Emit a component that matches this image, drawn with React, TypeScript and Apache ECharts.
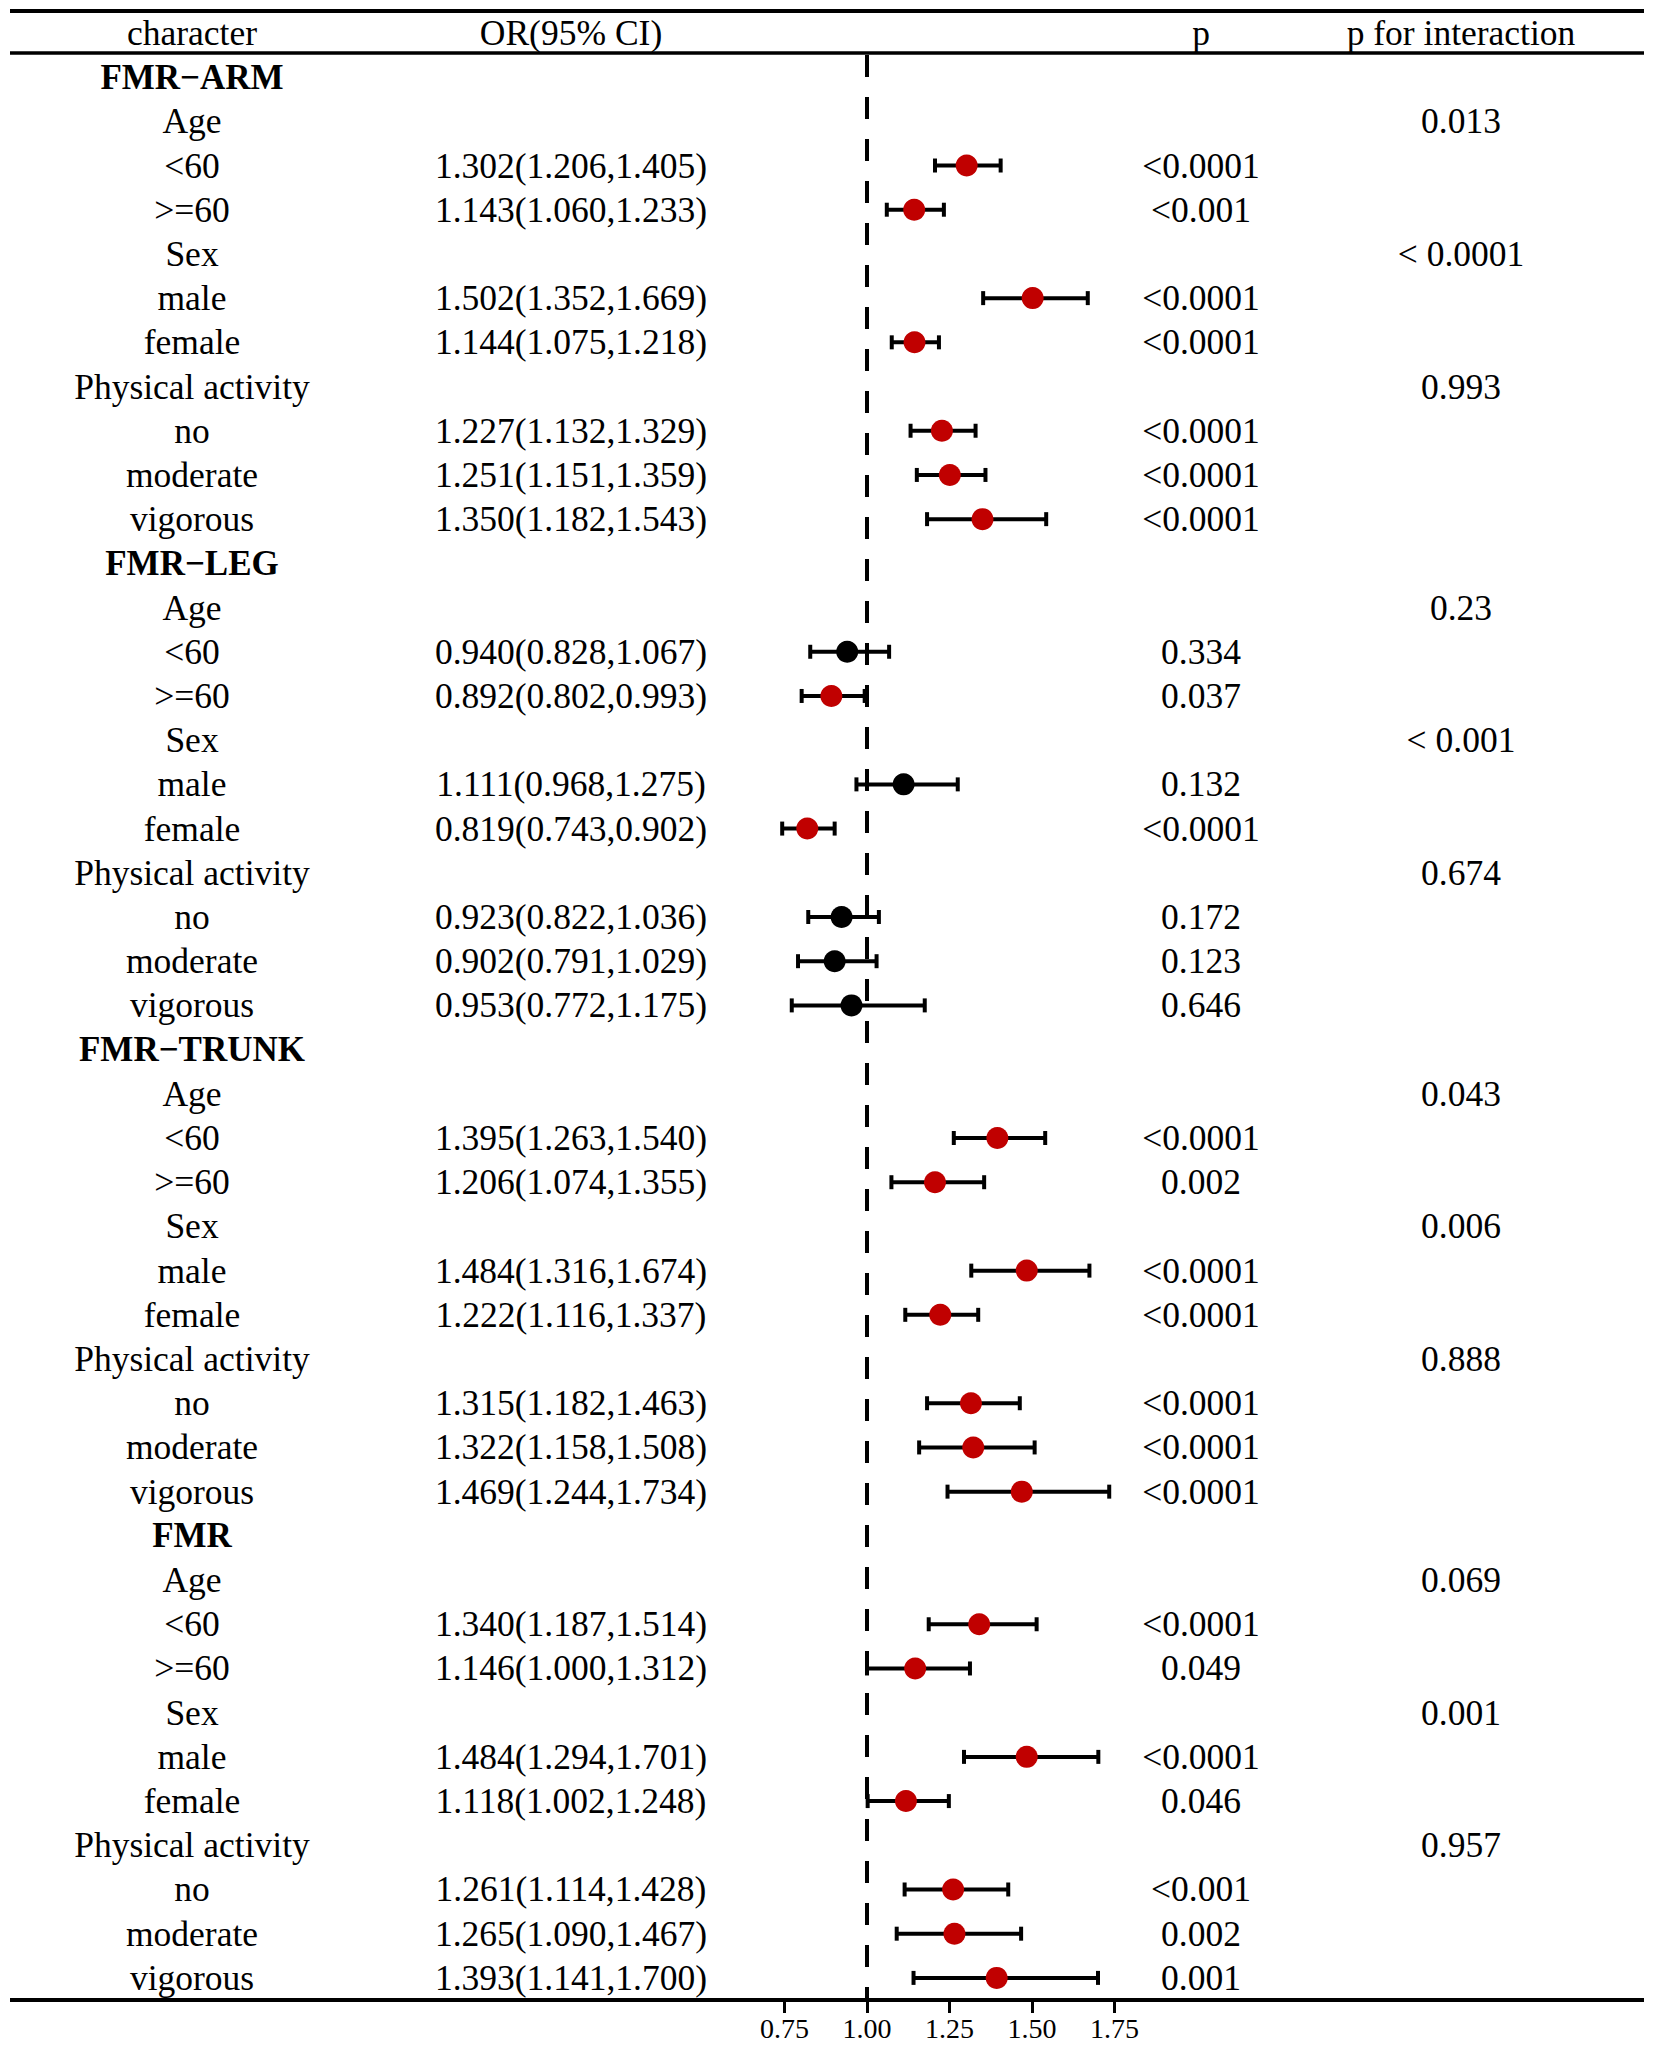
import React, { useEffect, useRef } from "react";
import * as echarts from "echarts";

const FONT = '"Liberation Serif", "Times New Roman", Times, serif';

// ---- data ----
const groupNames = ["FMR\u2212ARM", "FMR\u2212LEG", "FMR\u2212TRUNK", "FMR"];
const factorNames = ["Age", "Sex", "Physical activity"];
const levelNames = [["<60", ">=60"], ["male", "female"], ["no", "moderate", "vigorous"]];

const armOR = [1.302, 1.143, 1.502, 1.144, 1.227, 1.251, 1.35];
const armLow = [1.206, 1.06, 1.352, 1.075, 1.132, 1.151, 1.182];
const armHigh = [1.405, 1.233, 1.669, 1.218, 1.329, 1.359, 1.543];
const armP = ["<0.0001", "<0.001", "<0.0001", "<0.0001", "<0.0001", "<0.0001", "<0.0001"];
const armPint = ["0.013", "< 0.0001", "0.993"];

const legOR = [0.94, 0.892, 1.111, 0.819, 0.923, 0.902, 0.953];
const legLow = [0.828, 0.802, 0.968, 0.743, 0.822, 0.791, 0.772];
const legHigh = [1.067, 0.993, 1.275, 0.902, 1.036, 1.029, 1.175];
const legP = ["0.334", "0.037", "0.132", "<0.0001", "0.172", "0.123", "0.646"];
const legPint = ["0.23", "< 0.001", "0.674"];

const trunkOR = [1.395, 1.206, 1.484, 1.222, 1.315, 1.322, 1.469];
const trunkLow = [1.263, 1.074, 1.316, 1.116, 1.182, 1.158, 1.244];
const trunkHigh = [1.54, 1.355, 1.674, 1.337, 1.463, 1.508, 1.734];
const trunkP = ["<0.0001", "0.002", "<0.0001", "<0.0001", "<0.0001", "<0.0001", "<0.0001"];
const trunkPint = ["0.043", "0.006", "0.888"];

const fmrOR = [1.34, 1.146, 1.484, 1.118, 1.261, 1.265, 1.393];
const fmrLow = [1.187, 1.0, 1.294, 1.002, 1.114, 1.09, 1.141];
const fmrHigh = [1.514, 1.312, 1.701, 1.248, 1.428, 1.467, 1.7];
const fmrP = ["<0.0001", "0.049", "<0.0001", "0.046", "<0.001", "0.002", "0.001"];
const fmrPint = ["0.069", "0.001", "0.957"];

const xTicks = [0.75, 1.0, 1.25, 1.5, 1.75];
const headerTexts = ["character", "OR(95% CI)", "p", "p for interaction"];

const groupData = [
  { or: armOR, low: armLow, high: armHigh, p: armP, pint: armPint },
  { or: legOR, low: legLow, high: legHigh, p: legP, pint: legPint },
  { or: trunkOR, low: trunkLow, high: trunkHigh, p: trunkP, pint: trunkPint },
  { or: fmrOR, low: fmrLow, high: fmrHigh, p: fmrP, pint: fmrPint },
];

type Row = {
  char: string;
  bold: boolean;
  orText: string;
  pText: string;
  pintText: string;
  or: number | null;
  low: number | null;
  high: number | null;
  pNum: number | null;
};

function buildRows(): Row[] {
  const rows: Row[] = [];
  groupNames.forEach((g, gi) => {
    const d = groupData[gi];
    rows.push({ char: g, bold: true, orText: "", pText: "", pintText: "", or: null, low: null, high: null, pNum: null });
    let k = 0;
    factorNames.forEach((f, fi) => {
      rows.push({ char: f, bold: false, orText: "", pText: "", pintText: d.pint[fi], or: null, low: null, high: null, pNum: null });
      levelNames[fi].forEach((lv) => {
        rows.push({
          char: lv,
          bold: false,
          orText: `${d.or[k].toFixed(3)}(${d.low[k].toFixed(3)},${d.high[k].toFixed(3)})`,
          pText: d.p[k],
          pintText: "",
          or: d.or[k],
          low: d.low[k],
          high: d.high[k],
          pNum: parseFloat(d.p[k].replace("<", "").trim()),
        });
        k++;
      });
    });
  });
  return rows;
}

export default function App() {
  const ref = useRef<HTMLDivElement>(null);

  useEffect(() => {
    if (!ref.current) return;
    const chart = echarts.init(ref.current, null, { renderer: "svg", width: 1654, height: 2048 });
    const rows = buildRows();
    const rowIds = rows.map((_, i) => String(i));

    const errData: any[] = [];
    const ptData: any[] = [];
    rows.forEach((r, i) => {
      if (r.or != null) {
        errData.push([r.low, r.high, i]);
        ptData.push({
          value: [r.or, i],
          itemStyle: { color: (r.pNum as number) < 0.05 ? "#C00000" : "#000000", opacity: 1 },
        });
      }
    });

    const labelBase = {
      interval: 0,
      color: "#000",
      fontSize: 35.5,
      fontFamily: FONT,
      align: "center" as const,
      margin: 0,
    };

    const mkY = (position: "left" | "right", offset: number, key: keyof Row) => ({
      type: "category" as const,
      data: rowIds,
      inverse: true,
      position,
      offset,
      axisLine: { show: false },
      axisTick: { show: false },
      splitLine: { show: false },
      axisLabel: {
        ...labelBase,
        formatter: (_v: string, idx: number) => {
          const r = rows[idx];
          const t = String(r[key] ?? "");
          if (key === "char" && r.bold) return `{g|${t}}`;
          return t;
        },
        rich: {
          g: { fontWeight: "bold", fontSize: 35, fontFamily: FONT, color: "#000" },
        },
      },
    });

    const gridLeft = 702;
    const gridRight = 457;

    chart.setOption({
      animation: false,
      backgroundColor: "#ffffff",
      textStyle: { fontFamily: FONT },
      grid: { left: gridLeft, right: gridRight, top: 55, bottom: 48, containLabel: false },
      xAxis: {
        type: "value",
        min: 0.5,
        max: 2.0,
        axisLine: { show: false },
        splitLine: { show: false },
        axisTick: {
          show: true,
          customValues: xTicks,
          length: 13,
          lineStyle: { color: "#000", width: 3 },
        },
        axisLabel: {
          customValues: xTicks,
          formatter: (v: number) => v.toFixed(2),
          fontSize: 28,
          color: "#000",
          margin: 14,
          fontFamily: FONT,
        },
      },
      yAxis: [
        mkY("left", gridLeft - 192, "char"),
        mkY("left", gridLeft - 571, "orText"),
        mkY("right", 1201 - (1654 - gridRight), "pText"),
        mkY("right", 1461 - (1654 - gridRight), "pintText"),
      ],
      series: [
        {
          type: "custom",
          yAxisIndex: 0,
          z: 2,
          silent: true,
          data: errData,
          renderItem: (params: any, api: any) => {
            const a = api.coord([api.value(0), api.value(2)]);
            const b = api.coord([api.value(1), api.value(2)]);
            const cap = 7;
            const style = { stroke: "#000", lineWidth: 4 };
            return {
              type: "group",
              children: [
                { type: "line", shape: { x1: a[0], y1: a[1], x2: b[0], y2: b[1] }, style },
                { type: "line", shape: { x1: a[0], y1: a[1] - cap, x2: a[0], y2: a[1] + cap }, style },
                { type: "line", shape: { x1: b[0], y1: b[1] - cap, x2: b[0], y2: b[1] + cap }, style },
              ],
            };
          },
        },
        {
          type: "scatter",
          yAxisIndex: 0,
          z: 3,
          silent: true,
          symbol: "circle",
          symbolSize: 22,
          itemStyle: { opacity: 1 },
          data: ptData,
          markLine: {
            silent: true,
            symbol: ["none", "none"],
            label: { show: false },
            lineStyle: { color: "#000", width: 4, type: [22, 20], opacity: 1 },
            data: [{ xAxis: 1 }],
          },
        },
      ],
      graphic: [
        { type: "line", shape: { x1: 10, y1: 11, x2: 1644, y2: 11 }, style: { stroke: "#000", lineWidth: 4 } },
        { type: "line", shape: { x1: 10, y1: 53, x2: 1644, y2: 53 }, style: { stroke: "#000", lineWidth: 3.5 } },
        { type: "line", shape: { x1: 10, y1: 2000, x2: 1644, y2: 2000 }, style: { stroke: "#000", lineWidth: 4 } },
        ...headerTexts.map((t, i) => ({
          type: "text",
          x: [192, 571, 1201, 1461][i],
          y: 33,
          style: {
            text: t,
            fontSize: 35.5,
            fontFamily: FONT,
            fill: "#000",
            textAlign: "center",
            textVerticalAlign: "middle",
          },
        })),
      ],
    });

    return () => chart.dispose();
  }, []);

  return (
    <div
      ref={ref}
      style={{ position: "absolute", left: 0, top: 0, width: 1654, height: 2048, background: "#fff" }}
    />
  );
}
